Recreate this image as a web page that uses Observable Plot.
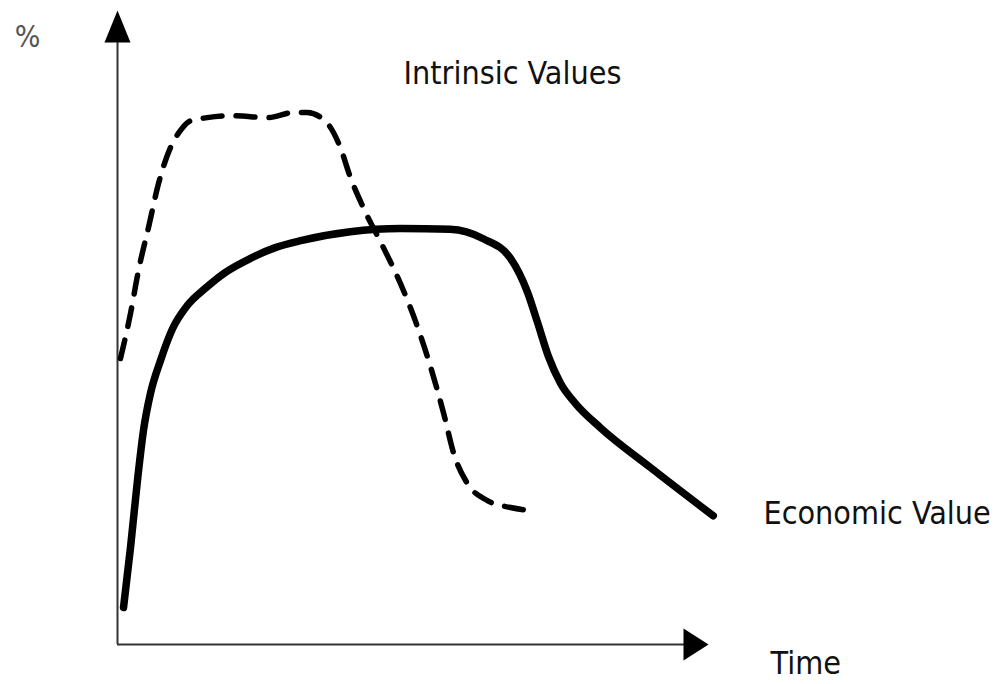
<!DOCTYPE html>
<html><head><meta charset="utf-8">
<script src="https://cdn.jsdelivr.net/npm/d3@7"></script>
<script src="https://cdn.jsdelivr.net/npm/@observablehq/plot@0.6"></script>
<style>body{margin:0;background:#fff}#chart{width:1003px;height:684px}</style>
</head><body><div id="chart"></div>
<script>
// Economic Value (solid)
const economicTime = [1.02,2.20,3.38,4.40,5.58,7.28,9.31,11.84,14.89,18.27,22.5,26.7,31.0,39.4,47.9,56.3,61.9,66.5,69.4,71.07,72.93,74.96,77.5,81.7,90.2,100.8];
const economicValue = [5.84,15.3,25.9,33.8,39.6,44.8,49.8,53.5,56.2,58.7,60.9,62.6,63.7,65.1,65.6,65.5,64.0,60.9,55.5,50.8,45.4,41.2,38.0,34.2,27.9,20.3];
// Intrinsic Values (dashed)
const intrinsicTime = [0.5,2.2,3.55,5.25,6.94,8.97,10.66,12.35,15.2,19.6,25.4,29.8,32.1,35.5,37.7,39.4,41.6,45.0,47.9,50.8,53.0,55.2,56.9,59.2,62.6,66.5,70.2];
const intrinsicValue = [45.1,52.2,59.0,65.8,72.7,78.4,81.1,82.6,83.1,83.4,83.1,83.9,83.9,82.2,78.4,73.7,68.9,62.6,56.9,50.0,43.7,36.4,30.1,25.4,22.7,21.6,21.1];
// axis extent and labels
const axisMax = [100, 100]; // [time, percent]
const labelText = ["%", "Intrinsic Values", "Economic Value", "Time"];
const labelX = [-15.2, 48.4, 109.3, 110.5];
const labelY = [95.7, 90.1, 20.7, -2.97];

const economic = economicTime.map((t, i) => ({t, v: economicValue[i]}));
const intrinsic = intrinsicTime.map((t, i) => ({t, v: intrinsicValue[i]}));
const labels = labelText.map((text, i) => ({text, x: labelX[i], y: labelY[i]}));

const upArrow = {draw(ctx) { ctx.moveTo(0, 0); ctx.lineTo(-13, 32); ctx.lineTo(13, 32); ctx.closePath(); }};
const rightArrow = {draw(ctx) { ctx.moveTo(0, 0); ctx.lineTo(-25, -16); ctx.lineTo(-25, 16); ctx.closePath(); }};

const font = "'DejaVu Sans Condensed', 'DejaVu Sans', sans-serif";

const chart = Plot.plot({
  width: 1003,
  height: 684,
  marginLeft: 117,
  marginRight: 295,
  marginTop: 10,
  marginBottom: 40,
  x: {domain: [0, axisMax[0]], axis: null},
  y: {domain: [0, axisMax[1]], axis: null},
  style: {fontFamily: font, background: "#fff"},
  marks: [
    Plot.ruleX([0], {y1: 0, y2: axisMax[1] - 3, stroke: "#333", strokeWidth: 2}),
    Plot.ruleY([0], {x1: 0, x2: axisMax[0] - 3, stroke: "#333", strokeWidth: 2}),
    Plot.dot([{x: 0, y: axisMax[1]}], {x: "x", y: "y", r: 5, symbol: upArrow, fill: "#000", stroke: "none"}),
    Plot.dot([{x: axisMax[0], y: 0}], {x: "x", y: "y", r: 5, symbol: rightArrow, fill: "#000", stroke: "none"}),
    Plot.line(intrinsic, {x: "t", y: "v", curve: "monotone-x", stroke: "#000", strokeWidth: 5.5, strokeDasharray: "19,14"}),
    Plot.line(economic, {x: "t", y: "v", curve: "monotone-x", stroke: "#000", strokeWidth: 7.5}),
    Plot.text(labels.slice(0, 1), {x: "x", y: "y", text: "text", textAnchor: "middle", fontSize: 30, fill: "#555", fontFamily: font}),
    Plot.text(labels.slice(1), {x: "x", y: "y", text: "text", textAnchor: "start", fontSize: 32, fill: "#111", fontFamily: font})
  ]
});
document.getElementById("chart").appendChild(chart);
</script>
</body></html>
